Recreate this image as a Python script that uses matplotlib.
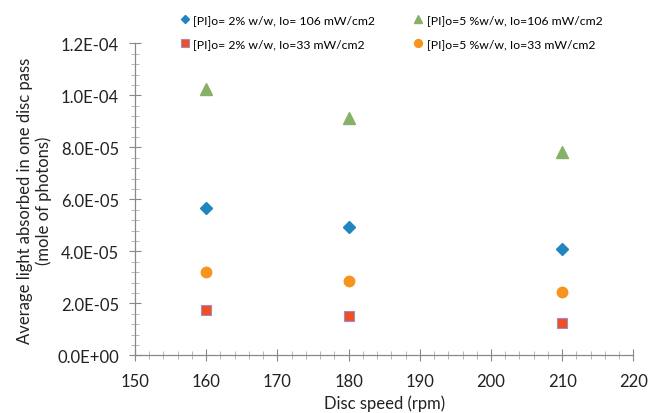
import matplotlib.pyplot as plt
from matplotlib.ticker import MultipleLocator, FormatStrFormatter

plt.rcParams['font.family'] = ['Lato', 'DejaVu Sans']

# disc speed (rpm)
speed = [160, 180, 210]
# average light absorbed in one disc pass (mole of photons)
pi2_io106 = [5.67e-5, 4.92e-5, 4.08e-5]
pi5_io106 = [1.024e-4, 9.13e-5, 7.81e-5]
pi2_io33 = [1.75e-5, 1.52e-5, 1.25e-5]
pi5_io33 = [3.19e-5, 2.85e-5, 2.43e-5]

labels = ['[PI]o= 2% w/w, Io= 106 mW/cm2',
          '[PI]o= 2% w/w, Io=33 mW/cm2',
          '[PI]o=5 %w/w, Io=106 mW/cm2',
          '[PI]o=5 %w/w, Io=33 mW/cm2']

fig = plt.figure(figsize=(6.49, 4.14), dpi=100)
ax = fig.add_axes([0.208, 0.139, 0.768, 0.754])

h1, = ax.plot(speed, pi2_io106, linestyle='none', marker='D', markersize=6,
              color='#1F86C0', label=labels[0])
h2, = ax.plot(speed, pi2_io33, linestyle='none', marker='s', markersize=7,
              color='#EE4F24', markeredgecolor='#A48BC0', markeredgewidth=0.8, label=labels[1])
h3, = ax.plot(speed, pi5_io106, linestyle='none', marker='^', markersize=8,
              color='#86B166', label=labels[2])
h4, = ax.plot(speed, pi5_io33, linestyle='none', marker='o', markersize=7.5,
              color='#F7941D', label=labels[3])

ax.set_xlim(150, 220)
ax.set_ylim(0, 1.2e-4)
ax.xaxis.set_major_locator(MultipleLocator(10))
ax.xaxis.set_minor_locator(MultipleLocator(2))
ax.yaxis.set_major_locator(MultipleLocator(2e-5))
ax.yaxis.set_minor_locator(MultipleLocator(4e-6))
ax.yaxis.set_major_formatter(FormatStrFormatter('%.1E'))

for side in ['top', 'right']:
    ax.spines[side].set_visible(False)
for side in ['left', 'bottom']:
    ax.spines[side].set_color('#888888')
    ax.spines[side].set_linewidth(0.9)
ax.tick_params(which='major', direction='inout', length=9, width=0.8,
               color='#888888', labelsize=12, labelcolor='#222222')
ax.tick_params(axis='x', which='major', pad=8)
ax.tick_params(axis='y', which='major', pad=7)
ax.tick_params(which='minor', direction='inout', length=6, width=0.6, color='#AAAAAA')

ax.set_xlabel('Disc speed (rpm)', fontsize=12, color='#222222', labelpad=4)
ax.set_ylabel('Average light absorbed in one disc pass\n(mole of photons)',
              fontsize=12, color='#222222', labelpad=4, linespacing=1.15)

fig.legend(handles=[h1, h2, h3, h4], ncol=2, loc='upper left',
           bbox_to_anchor=(0.262, 0.99), frameon=False, fontsize=8.8,
           handlelength=0.6, handletextpad=0.4, columnspacing=3.2,
           labelspacing=1.1, markerscale=0.75)

fig.savefig('out.png', dpi=100)
